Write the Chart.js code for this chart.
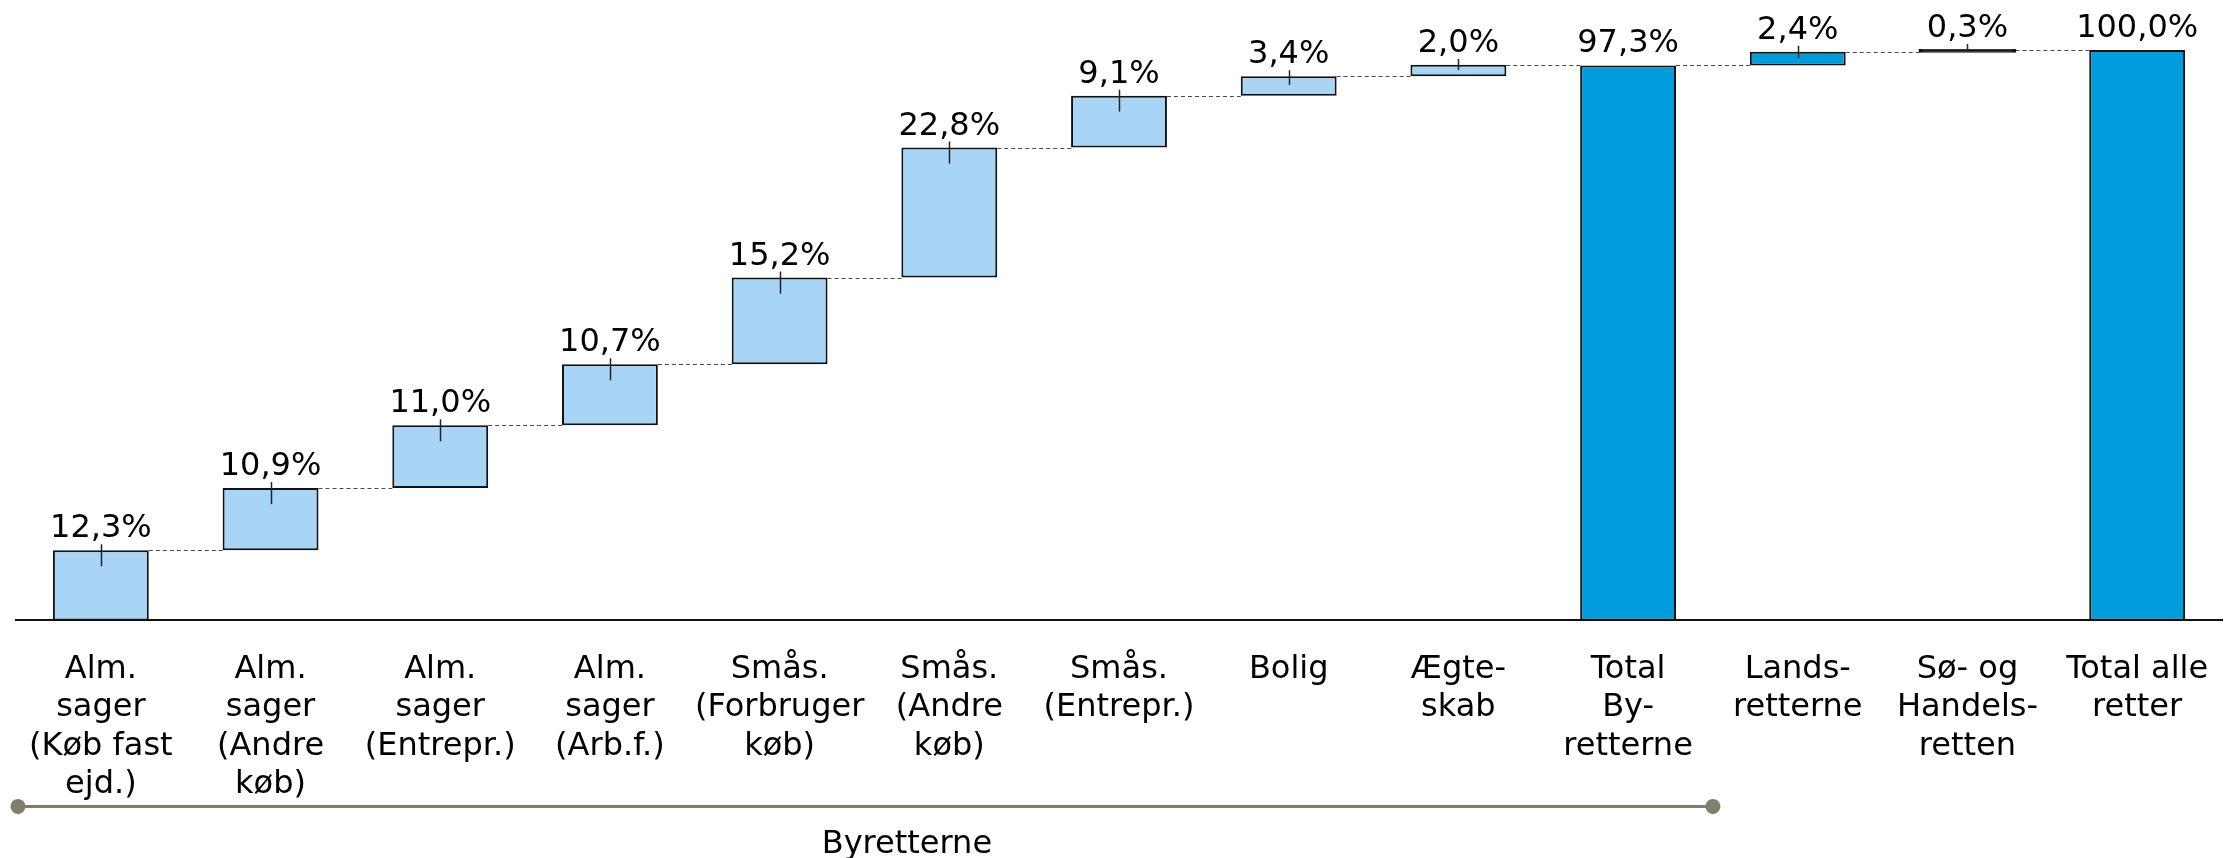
<!DOCTYPE html>
<html>
<head>
<meta charset="utf-8">
<script src="https://cdn.jsdelivr.net/npm/chart.js@4.4.1/dist/chart.umd.min.js"></script>
<style>
  html, body { margin: 0; padding: 0; background: #fff; }
  #wrap { width: 2236px; height: 858px; position: relative; }
</style>
</head>
<body>
<div id="wrap"><canvas id="chart"></canvas></div>
<script>
// Share of cases per court / case type (percent)
const categories = [
  ['Alm.', 'sager', '(Køb fast', 'ejd.)'],
  ['Alm.', 'sager', '(Andre', 'køb)'],
  ['Alm.', 'sager', '(Entrepr.)'],
  ['Alm.', 'sager', '(Arb.f.)'],
  ['Smås.', '(Forbruger', 'køb)'],
  ['Smås.', '(Andre', 'køb)'],
  ['Smås.', '(Entrepr.)'],
  ['Bolig'],
  ['Ægte-', 'skab'],
  ['Total', 'By-', 'retterne'],
  ['Lands-', 'retterne'],
  ['Sø- og', 'Handels-', 'retten'],
  ['Total alle', 'retter'],
];
const shares = [12.3, 10.9, 11.0, 10.7, 15.2, 22.8, 9.1, 3.4, 2.0, 97.3, 2.4, 0.3, 100.0];
const totalIdx = [9, 12];          // bars that start from zero
const firstOtherCourt = 9;         // from here on bars get the darker blue
const groupLabel = 'Byretterne';
const groupSpan = [0, 9];

const LIGHT = '#A8D5F5';
const DARK = '#009DDE';
const EDGE = '#111';
const FONT = '"DejaVu Sans", Verdana, sans-serif';

// floating [from, to] ranges for the waterfall
let running = 0;
const ranges = shares.map((v, i) => {
  if (totalIdx.includes(i)) { running = v; return [0, v]; }
  const r = [running, running + v];
  running += v;
  return r;
});

const fmt = (v) => v.toFixed(1).replace('.', ',') + '%';
// very small steps end up as a thick line of border colour
const isSliver = (i) => shares[i] < 1;

const waterfallMarks = {
  id: 'waterfallMarks',
  afterDatasetsDraw(chart) {
    const { ctx, scales: { x, y } } = chart;
    const bars = chart.getDatasetMeta(0).data;
    ctx.save();

    // dashed connectors between neighbouring bars
    ctx.strokeStyle = '#4a4a4a';
    ctx.lineWidth = 1;
    ctx.setLineDash([4, 3]);
    for (let i = 0; i < bars.length - 1; i++) {
      const lvl = Math.round(y.getPixelForValue(ranges[i][1])) + 0.5;
      ctx.beginPath();
      ctx.moveTo(bars[i].x + bars[i].width / 2, lvl);
      ctx.lineTo(bars[i + 1].x - bars[i + 1].width / 2, lvl);
      ctx.stroke();
    }
    ctx.setLineDash([]);

    // value labels + small marker at the top edge
    ctx.font = '32px ' + FONT;
    ctx.fillStyle = '#000';
    ctx.textAlign = 'center';
    ctx.textBaseline = 'alphabetic';
    ctx.strokeStyle = '#222';
    ctx.lineWidth = 1.5;
    bars.forEach((bar, i) => {
      const top = y.getPixelForValue(ranges[i][1]);
      const bottom = y.getPixelForValue(ranges[i][0]);
      ctx.fillText(fmt(shares[i]), bar.x, top - 13);
      if (!totalIdx.includes(i)) {
        const below = Math.min(16, (bottom - top) * 0.45);
        ctx.beginPath();
        ctx.moveTo(Math.round(bar.x) + 0.5, top - 6);
        ctx.lineTo(Math.round(bar.x) + 0.5, top + below);
        ctx.stroke();
      }
    });

    // bracket under the city court categories
    const half = (x.getPixelForValue(1) - x.getPixelForValue(0)) / 2;
    const x0 = x.getPixelForValue(groupSpan[0]) - half + 2;
    const x1 = x.getPixelForValue(groupSpan[1]) + half;
    const by = x.top + 186;
    ctx.strokeStyle = '#7F7F6B';
    ctx.fillStyle = '#7F7F6B';
    ctx.lineWidth = 3;
    ctx.beginPath();
    ctx.moveTo(x0, by);
    ctx.lineTo(x1, by);
    ctx.stroke();
    [x0, x1].forEach((px) => {
      ctx.beginPath();
      ctx.arc(px, by, 7.5, 0, Math.PI * 2);
      ctx.fill();
    });
    ctx.fillStyle = '#000';
    ctx.fillText(groupLabel, x.getPixelForValue(4.75), x.top + 233);

    ctx.restore();
  },
};

Chart.defaults.font.family = FONT;

new Chart(document.getElementById('chart'), {
  type: 'bar',
  data: {
    labels: categories,
    datasets: [{
      data: ranges,
      backgroundColor: (c) => (isSliver(c.dataIndex) ? EDGE : c.dataIndex >= firstOtherCourt ? DARK : LIGHT),
      inflateAmount: (c) => (isSliver(c.dataIndex) ? 1 : 0),
      borderColor: EDGE,
      borderWidth: 2,
      borderSkipped: false,
      categoryPercentage: 1,
      barPercentage: 0.565,
      clip: false,
    }],
  },
  options: {
    responsive: true,
    maintainAspectRatio: false,
    animation: false,
    layout: { padding: { top: 50, left: 16, right: 14, bottom: 32 } },
    plugins: { legend: { display: false }, tooltip: { enabled: false } },
    scales: {
      x: {
        grid: { display: false },
        border: { display: true, color: '#111', width: 2 },
        ticks: {
          color: '#000',
          font: { size: 32, lineHeight: 1.2 },
          padding: 22,
          autoSkip: false,
          maxRotation: 0,
          minRotation: 0,
        },
        afterFit(scale) {
          scale.paddingLeft = 0;
          scale.paddingRight = 0;
        },
      },
      y: { display: false, min: 0, max: 100 },
    },
  },
  plugins: [waterfallMarks],
});
</script>
</body>
</html>
